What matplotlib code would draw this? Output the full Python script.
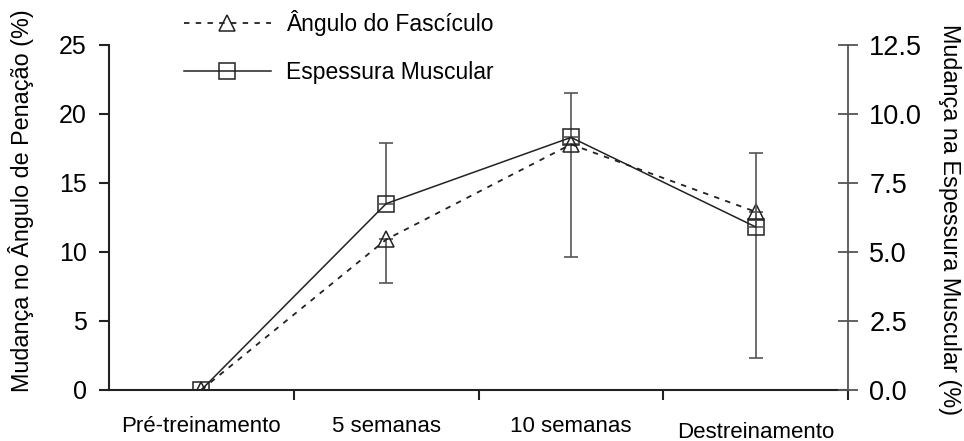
import numpy as np
import matplotlib.pyplot as plt

plt.rcParams['font.family'] = ['Liberation Sans', 'DejaVu Sans']

# dados
categorias = ['Pré-treinamento', '5 semanas', '10 semanas', 'Destreinamento']
angulo = [0.0, 10.9, 17.8, 12.9]          # eixo esquerdo (%)
angulo_inf = [7.75, 9.6, 2.3]              # limite inferior do erro (5, 10 sem, destr.)
espessura = [0.0, 6.75, 9.15, 5.9]         # eixo direito (%)
espessura_sup = [8.95, 10.75, 8.6]         # limite superior do erro

x = np.arange(len(categorias))
preto = '#222222'
cinza = '#555555'

fig = plt.figure(figsize=(9.64, 4.41), dpi=100)
ax = fig.add_axes([0.113, 0.116, 0.767, 0.782])
ax2 = ax.twinx()

# Ângulo do fascículo (eixo esquerdo)
ax.errorbar(x[1:], angulo[1:],
            yerr=[np.array(angulo[1:]) - np.array(angulo_inf), np.zeros(3)],
            fmt='none', ecolor=cinza, elinewidth=1.2, capsize=5, capthick=1.2)
l1, = ax.plot(x, angulo, color=preto, lw=1.3, ls=(0, (3, 3.5)),
              marker='^', ms=11, mfc='none', mec=preto, mew=1.1)

# Espessura muscular (eixo direito)
ax2.errorbar(x[1:], espessura[1:],
             yerr=[np.zeros(3), np.array(espessura_sup) - np.array(espessura[1:])],
             fmt='none', ecolor=cinza, elinewidth=1.2, capsize=5, capthick=1.2)
l2, = ax2.plot(x, espessura, color=preto, lw=1.1, ls='-',
               marker='s', ms=11, mfc='none', mec=preto, mew=1.1)

ax.set_xlim(-0.5, 3.5)
ax.set_ylim(0, 25)
ax2.set_ylim(0, 12.5)

ax.set_yticks(np.arange(0, 26, 5))
ax2.set_yticks(np.arange(0, 12.6, 2.5))
ax2.set_yticklabels(['%.1f' % v for v in np.arange(0, 12.6, 2.5)])

ax.set_xticks(x)
ax.set_xticklabels(categorias, fontsize=16)
ax.set_xticks([0.5, 1.5, 2.5, 3.5], minor=True)
ax.tick_params(axis='x', which='major', length=0, pad=19)
ax.tick_params(axis='x', which='minor', length=7, width=1.5, direction='out', color=preto)
ax.xaxis.get_major_ticks()[3].set_pad(23)

ax.tick_params(axis='y', length=7, width=1.5, direction='out', color=preto,
               labelsize=18, pad=9)
ax2.tick_params(axis='y', length=14, width=1.3, direction='inout', color=cinza,
                labelsize=19.5, pad=8)

for s in ['top', 'right']:
    ax.spines[s].set_visible(False)
for s in ['top', 'left', 'bottom']:
    ax2.spines[s].set_visible(False)
ax.spines['left'].set_linewidth(1.5)
ax.spines['bottom'].set_linewidth(1.5)
ax.spines['left'].set_color(preto)
ax.spines['bottom'].set_color(preto)
ax2.spines['right'].set_color(cinza)
ax2.spines['right'].set_linewidth(1.3)

ax.set_ylabel('Mudança no Ângulo de Penação (%)', fontsize=16.8)
ax.yaxis.set_label_coords(-0.101, 0.548)
ax2.set_ylabel('Mudança na Espessura Muscular (%)', fontsize=16.8, rotation=270)
ax2.yaxis.set_label_coords(1.152, 0.493)

fig.legend([l1, l2], ['Ângulo do Fascículo', 'Espessura Muscular'],
           loc='upper left', bbox_to_anchor=(0.169, 1.025), frameon=False,
           fontsize=16.5, handlelength=3.8, handletextpad=0.65, labelspacing=1.1)

fig.savefig('out.png', dpi=100)
